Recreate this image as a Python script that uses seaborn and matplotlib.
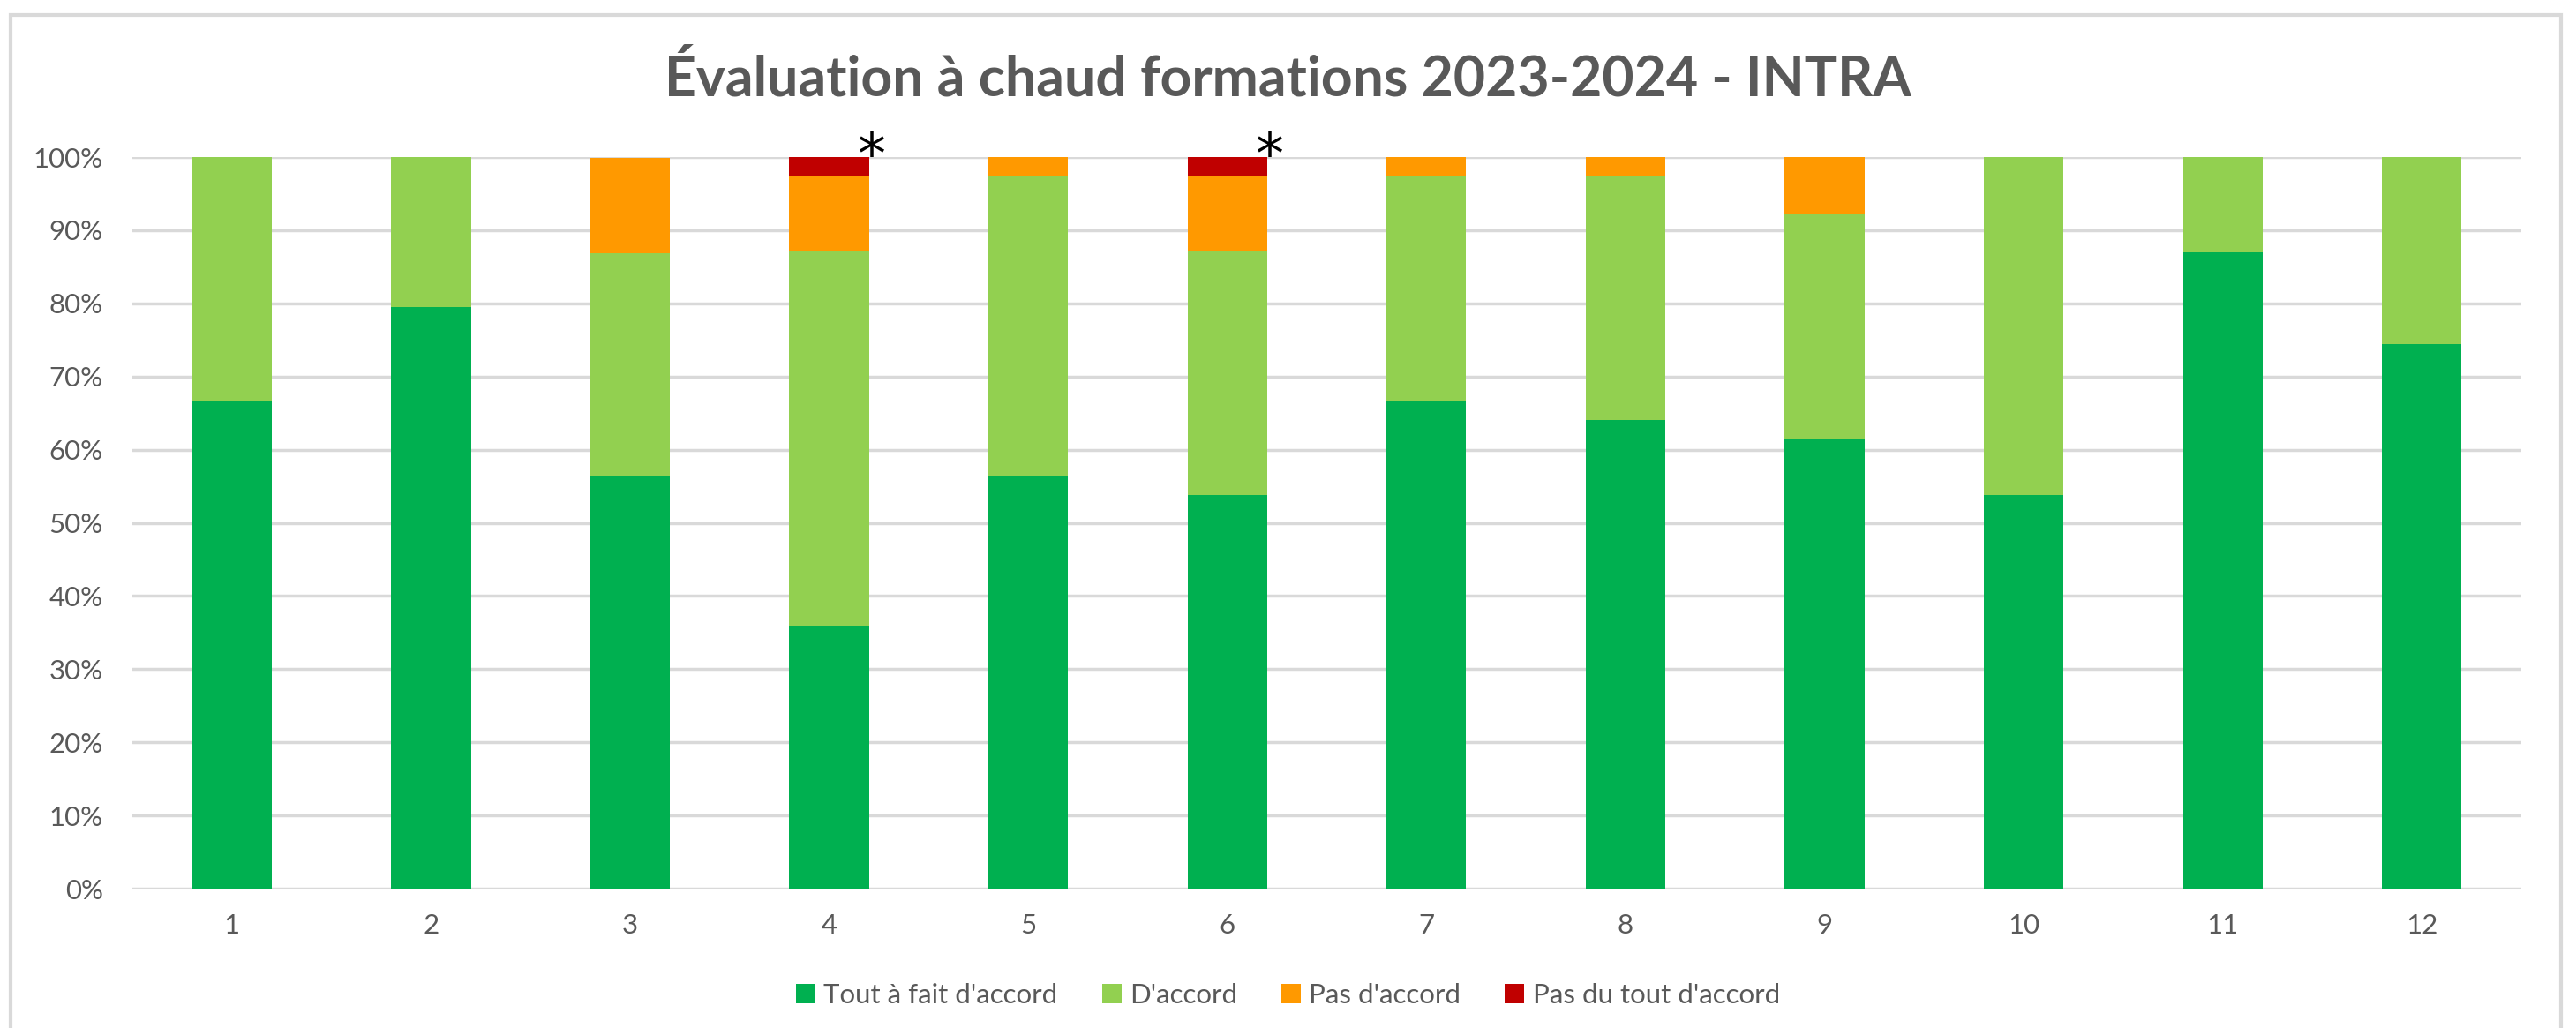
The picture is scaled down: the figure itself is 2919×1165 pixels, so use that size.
import seaborn as sns
import matplotlib.pyplot as plt
import pandas as pd
from matplotlib.patches import Rectangle
from matplotlib.ticker import PercentFormatter

sns.set_style("white")
plt.rcParams['font.family'] = ['Lato', 'DejaVu Sans']

FORMATIONS = ["1", "2", "3", "4", "5", "6", "7", "8", "9", "10", "11", "12"]

# parts des réponses (%)
tout_a_fait = [66.7, 79.5, 56.5, 35.9, 56.4, 53.8, 66.7, 64.1, 61.5, 53.8, 87.0, 74.4]
d_accord = [33.3, 20.5, 30.4, 51.3, 41.0, 33.3, 30.8, 33.3, 30.8, 46.2, 13.0, 25.6]
pas_d_accord = [0.0, 0.0, 13.0, 10.3, 2.6, 10.3, 2.6, 2.6, 7.7, 0.0, 0.0, 0.0]
pas_du_tout = [0.0, 0.0, 0.0, 2.6, 0.0, 2.6, 0.0, 0.0, 0.0, 0.0, 0.0, 0.0]

LEVELS = ["Tout à fait d'accord", "D'accord", "Pas d'accord", "Pas du tout d'accord"]
COLORS = ["#00B050", "#92D050", "#FF9900", "#C00000"]

# formations marquées d'un astérisque
STARRED = ["4", "6"]

TEXT_COLOR = "#595959"
GRID_COLOR = "#D9D9D9"

df = pd.DataFrame({
    "formation": FORMATIONS,
    LEVELS[0]: tout_a_fait,
    LEVELS[1]: d_accord,
    LEVELS[2]: pas_d_accord,
    LEVELS[3]: pas_du_tout,
})
for level in LEVELS:
    df[level] = df[level] / 100.0

fig = plt.figure(figsize=(29.19, 11.65), dpi=100)
ax = fig.add_axes([0.0514, 0.1356, 0.9274, 0.7116])

bottom = pd.Series(0.0, index=df.index)
for level, color in zip(LEVELS, COLORS):
    sns.barplot(data=df, x="formation", y=level, bottom=bottom.values,
                color=color, width=0.4, errorbar=None, label=level,
                saturation=1, linewidth=0, ax=ax)
    bottom = bottom + df[level]

# astérisques
for f in STARRED:
    i = FORMATIONS.index(f)
    ax.text(i + 0.21, 1.0, "*", ha="center", va="center", fontsize=46,
            color="black", family="DejaVu Sans")

ax.set_ylim(0, 1)
ax.set_xlim(-0.5, len(FORMATIONS) - 0.5)
ax.set_yticks([i / 10 for i in range(11)])
ax.yaxis.set_major_formatter(PercentFormatter(1.0, decimals=0))
ax.grid(axis="y", color=GRID_COLOR, linewidth=2.5)
ax.set_axisbelow(True)
sns.despine(ax=ax, left=True, bottom=True)
ax.tick_params(axis="both", length=0, labelsize=22.5, labelcolor=TEXT_COLOR)
ax.tick_params(axis="y", pad=24)
ax.tick_params(axis="x", pad=20)
ax.set_xlabel("")
ax.set_ylabel("")

fig.text(0.5, 0.923, "Évaluation à chaud formations 2023-2024 - INTRA",
         ha="center", va="center", fontsize=45, fontweight="bold", color=TEXT_COLOR)

ax.legend(loc="center", bbox_to_anchor=(0.5, 0.032), bbox_transform=fig.transFigure,
          ncol=4, frameon=False, fontsize=22.5, labelcolor=TEXT_COLOR,
          handlelength=0.7, handleheight=0.7, handletextpad=0.3, columnspacing=1.6)

# cadre du graphique
fig.patches.append(Rectangle((0.0041, -0.05), 0.9901, 1.0354, transform=fig.transFigure,
                             fill=False, edgecolor=GRID_COLOR, linewidth=3))

fig.savefig("out.png", dpi=100, facecolor="white")
